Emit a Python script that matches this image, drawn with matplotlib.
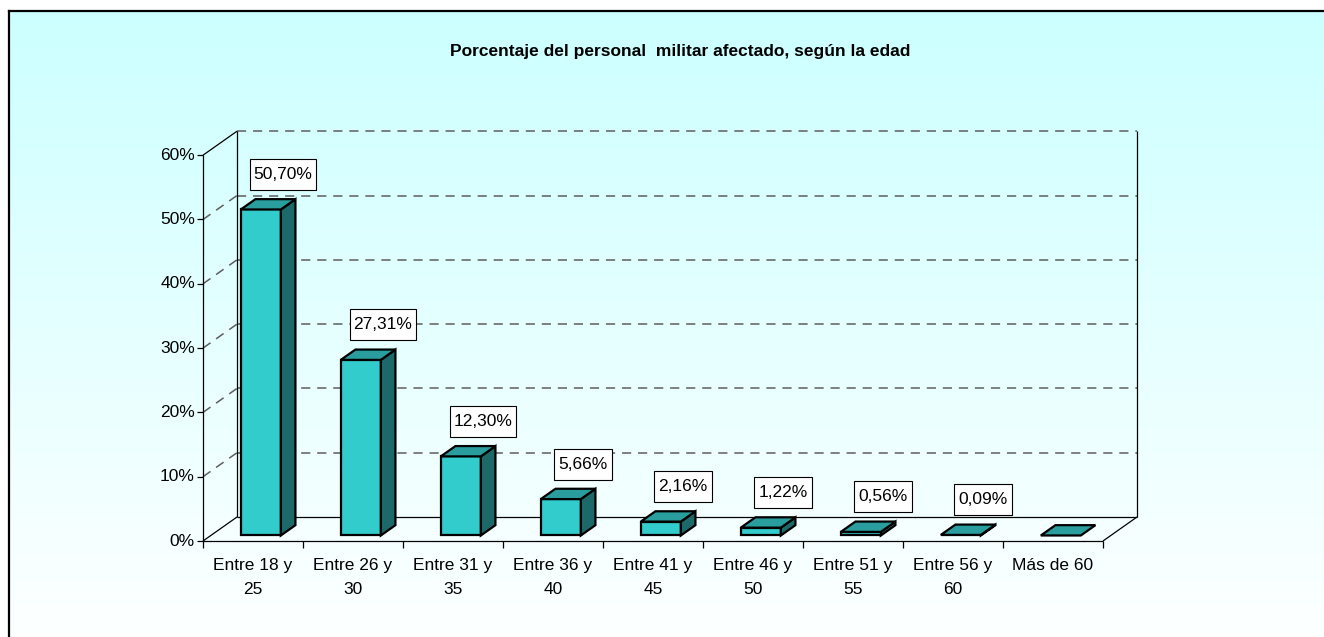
import matplotlib
matplotlib.use("Agg")
import matplotlib.pyplot as plt
import numpy as np
from matplotlib.patches import Polygon, Rectangle

# data
categorias = ["Entre 18 y\n25", "Entre 26 y\n30", "Entre 31 y\n35", "Entre 36 y\n40",
              "Entre 41 y\n45", "Entre 46 y\n50", "Entre 51 y\n55", "Entre 56 y\n60",
              "Más de 60"]
porcentajes = [50.70, 27.31, 12.30, 5.66, 2.16, 1.22, 0.56, 0.09, 0.0]
etiquetas = ["50,70%", "27,31%", "12,30%", "5,66%", "2,16%", "1,22%", "0,56%", "0,09%", ""]
ticks_y = [0, 10, 20, 30, 40, 50, 60]
ticks_y_txt = ["0%", "10%", "20%", "30%", "40%", "50%", "60%"]
titulo = "Porcentaje del personal  militar afectado, según la edad"

W, H = 1324, 637
X0, UX = 203, 100.0      # pixel of category 0 and pixels per category
Y0, UY = 541, 6.43       # pixel row of 0% and pixels per percent
DX, DY = 34 / UX, 24 / UY  # 3d depth offset in data units
D0, D1 = 0.23, 0.66        # bar depth range
BW = 0.4

def px(x):  # pixel column -> data x
    return (x - X0) / UX

def py(y):  # pixel row (from top) -> data y
    return (Y0 - y) / UY

font = "Liberation Sans"
fs = 12.5

fig = plt.figure(figsize=(W / 100, H / 100), dpi=100)
ax = fig.add_axes([0, 0, 1, 1])
ax.axis("off")

# background gradient inside the outer frame (frame is cut at right/bottom)
grad = np.linspace(0, 1, 200)[:, None]
top = np.array([0xCC, 0xFF, 0xFF]) / 255
bot = np.array([1.0, 1.0, 1.0])
img = top[None, None, :] * (1 - grad[..., None]) + bot[None, None, :] * grad[..., None]
ax.imshow(img, extent=[px(9), px(W + 20), py(H + 20), py(11)], aspect="auto", zorder=0)
ax.plot([px(9), px(9)], [py(H + 20), py(11)], color="black", lw=1.6, zorder=1)
ax.plot([px(9), px(W + 20)], [py(11), py(11)], color="black", lw=1.6, zorder=1)
ax.set_xlim(px(0), px(W))
ax.set_ylim(py(H), py(0))

n = len(categorias)
ymax = ticks_y[-1]
grid_kw = dict(color="#5E5E5E", lw=1.1, ls=(0, (6, 4.5)), zorder=2)

# gridlines on back wall and side wall
for v in ticks_y[1:]:
    ax.plot([DX, n + DX], [v + DY, v + DY], **grid_kw)
    if v < ymax:
        ax.plot([0, DX], [v, v + DY], **grid_kw)

line_kw = dict(color="black", lw=0.9, zorder=3, solid_capstyle="butt")
# walls and floor edges
ax.plot([DX, DX], [DY, ymax + DY], **line_kw)
ax.plot([n + DX, n + DX], [DY, ymax + DY], **line_kw)
ax.plot([DX, n + DX], [DY, DY], **line_kw)
ax.plot([0, DX], [0, DY], **line_kw)
ax.plot([n, n + DX], [0, DY], **line_kw)
ax.plot([0, DX], [ymax, ymax + DY], **line_kw)
ax.plot([0, 0], [0, ymax], **line_kw)
ax.plot([0, n], [0, 0], **line_kw)

# y ticks
for v, t in zip(ticks_y, ticks_y_txt):
    ax.plot([px(X0 - 6), 0], [v, v], **line_kw)
    ax.text(px(X0 - 8), v, t, ha="right", va="center", family=font, fontsize=fs)

# x ticks and labels
for i in range(n + 1):
    ax.plot([i, i], [0, py(Y0 + 7)], **line_kw)
for i, c in enumerate(categorias):
    ax.text(i + 0.5, py(558), c, ha="center", va="top", family=font, fontsize=fs,
            linespacing=1.75)

# bars
front_c, top_c, side_c = "#33CCCC", "#2A9E9E", "#1D6868"
bar_kw = dict(ec="black", lw=1.6, joinstyle="miter")
label_txt = []
for i, v in enumerate(porcentajes):
    xl = i + 0.5 - BW / 2
    xr = xl + BW
    ox0, oy0 = D0 * DX, D0 * DY
    ox1, oy1 = D1 * DX, D1 * DY
    if v > 0:
        ax.add_patch(Polygon([(xl + ox0, oy0), (xr + ox0, oy0), (xr + ox0, v + oy0),
                              (xl + ox0, v + oy0)], fc=front_c, zorder=5, **bar_kw))
        ax.add_patch(Polygon([(xr + ox0, oy0), (xr + ox1, oy1), (xr + ox1, v + oy1),
                              (xr + ox0, v + oy0)], fc=side_c, zorder=5, **bar_kw))
    ax.add_patch(Polygon([(xl + ox0, v + oy0), (xr + ox0, v + oy0), (xr + ox1, v + oy1),
                          (xl + ox1, v + oy1)], fc=top_c, zorder=6, **bar_kw))
    if etiquetas[i]:
        t = ax.text(i + 0.5 + 0.3, v + 6.3, etiquetas[i], ha="center", va="center",
                    family=font, fontsize=fs, zorder=8)
        label_txt.append(t)

# white boxes behind the value labels (Excel style: tall, narrow padding)
fig.canvas.draw()
rend = fig.canvas.get_renderer()
for t in label_txt:
    bb = t.get_window_extent(rend)
    cx, cy = t.get_position()
    half_w = (bb.width / 2 + 4) / UX
    half_h = 15.5 / UY
    ax.add_patch(Rectangle((cx - half_w, cy - half_h), 2 * half_w, 2 * half_h,
                           fc="white", ec="black", lw=0.8, zorder=7))

ax.text(px(680), py(52), titulo, ha="center", va="center", family=font,
        fontsize=fs, fontweight="bold")

fig.savefig("out.png", dpi=100)
